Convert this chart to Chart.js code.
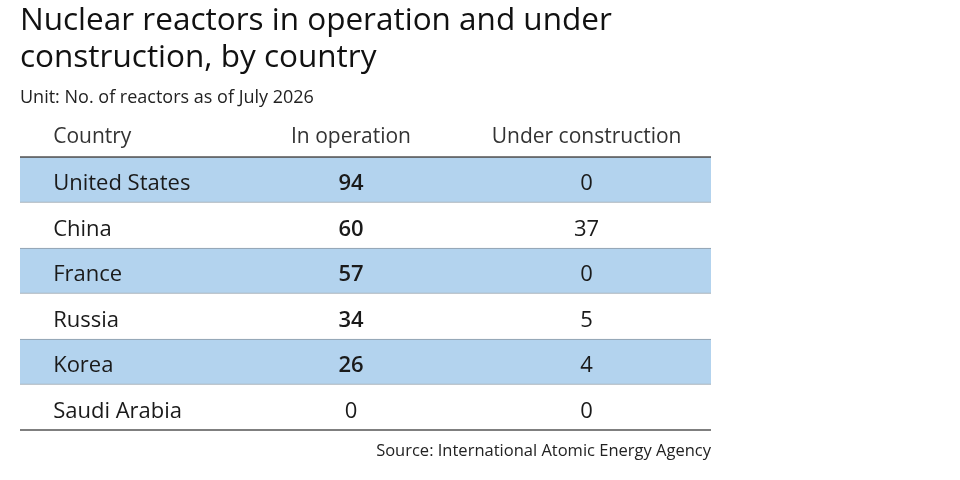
<!DOCTYPE html>
<html>
<head>
<meta charset="utf-8">
<script src="https://cdn.jsdelivr.net/npm/chart.js@4.4.1/dist/chart.umd.min.js"></script>
<style>
  html, body { margin: 0; padding: 0; background: #fff; }
  #wrap { width: 960px; height: 480px; }
</style>
</head>
<body>
<div id="wrap"><canvas id="reactorTable" width="960" height="480"></canvas></div>
<script>
const titleLines = ['Nuclear reactors in operation and under', 'construction, by country'];
const subtitle = 'Unit: No. of reactors as of July 2026';
const columnHeaders = ['Country', 'In operation', 'Under construction'];
const countries = ['United States', 'China', 'France', 'Russia', 'Korea', 'Saudi Arabia'];
const inOperation = [94, 60, 57, 34, 26, 0];
const underConstruction = [0, 37, 0, 5, 4, 0];
const sourceNote = 'Source: International Atomic Energy Agency';

const FONT = '"Open Sans", Lato, sans-serif';

// filas sombreadas alternas: barras flotantes de lado a lado de la tabla
const bands = countries.map((c, i) => (i % 2 === 0 ? [0, 100] : null));

// texto de la tabla, colocado con las escalas del gráfico
const tablePlugin = {
    id: 'tablePlugin',
    afterDraw(chart) {
        const ctx = chart.ctx;
        const x = chart.scales.x;
        const y = chart.scales.y;
        const area = chart.chartArea;
        const colX = [x.getPixelForValue(4.8), x.getPixelForValue(47.9), x.getPixelForValue(82)];

        ctx.save();
        ctx.textBaseline = 'alphabetic';
        ctx.textAlign = 'left';

        // título y unidad
        ctx.fillStyle = '#111';
        ctx.font = `31.5px ${FONT}`;
        titleLines.forEach((t, i) => ctx.fillText(t, area.left, 30 + i * 37));
        ctx.fillStyle = '#222';
        ctx.font = `18px ${FONT}`;
        ctx.fillText(subtitle, area.left, 103);

        // cabecera
        ctx.fillStyle = '#333';
        ctx.font = `21px ${FONT}`;
        ctx.fillText(columnHeaders[0], colX[0], 143);
        ctx.textAlign = 'center';
        ctx.fillText(columnHeaders[1], colX[1], 143);
        ctx.fillText(columnHeaders[2], colX[2], 143);

        // celdas
        ctx.textBaseline = 'middle';
        ctx.fillStyle = '#1a1a1a';
        countries.forEach((name, i) => {
            const cy = y.getPixelForValue(i) + 4;
            ctx.textAlign = 'left';
            ctx.font = `22px ${FONT}`;
            ctx.fillText(name, colX[0], cy);
            ctx.textAlign = 'center';
            ctx.font = `${inOperation[i] > 0 ? 600 : 400} 22px ${FONT}`;
            ctx.fillText(String(inOperation[i]), colX[1], cy);
            ctx.font = `22px ${FONT}`;
            ctx.fillText(String(underConstruction[i]), colX[2], cy);
        });

        // líneas superior e inferior
        ctx.strokeStyle = '#555';
        ctx.lineWidth = 1.5;
        ctx.beginPath();
        ctx.moveTo(area.left, area.top);
        ctx.lineTo(area.right, area.top);
        ctx.moveTo(area.left, area.bottom);
        ctx.lineTo(area.right, area.bottom);
        ctx.stroke();

        // fuente
        ctx.textAlign = 'right';
        ctx.textBaseline = 'alphabetic';
        ctx.fillStyle = '#222';
        ctx.font = `16.5px ${FONT}`;
        ctx.fillText(sourceNote, area.right, 456);
        ctx.restore();
    }
};

new Chart(document.getElementById('reactorTable').getContext('2d'), {
    type: 'bar',
    data: {
        labels: countries,
        datasets: [{
            label: 'bands',
            data: bands,
            backgroundColor: '#b3d3ee',
            borderColor: '#8d9aa6',
            borderWidth: { top: 1, bottom: 1, left: 0, right: 0 },
            borderSkipped: false,
            barPercentage: 1,
            categoryPercentage: 1
        }]
    },
    options: {
        indexAxis: 'y',
        responsive: false,
        animation: false,
        layout: { padding: { left: 20, right: 249, top: 157, bottom: 50 } },
        scales: {
            x: { type: 'linear', min: 0, max: 100, display: false },
            y: { display: false }
        },
        plugins: {
            legend: { display: false },
            tooltip: { enabled: false }
        }
    },
    plugins: [tablePlugin]
});
</script>
</body>
</html>
